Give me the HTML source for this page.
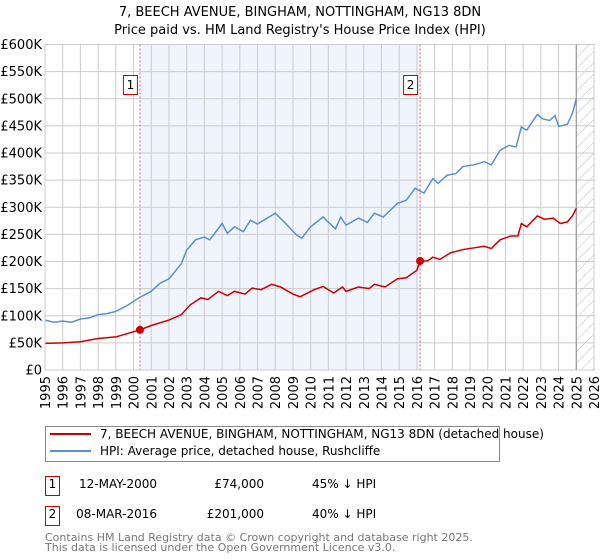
<!DOCTYPE html>
<html><head><meta charset="utf-8"><style>
body{margin:0;width:600px;height:560px;background:#fff;font-family:"DejaVu Sans","Liberation Sans",sans-serif;overflow:hidden}
svg{position:absolute;left:0;top:0}
</style></head><body>
<svg id="chart" width="600" height="560" font-family="DejaVu Sans, Liberation Sans, sans-serif">
<text x="300" y="16" text-anchor="middle" font-size="13">7, BEECH AVENUE, BINGHAM, NOTTINGHAM, NG13 8DN</text>
<text x="300" y="34" text-anchor="middle" font-size="13">Price paid vs. HM Land Registry's House Price Index (HPI)</text>
<defs><pattern id="hatch" width="8" height="8" patternUnits="userSpaceOnUse" patternTransform="rotate(45)"><line x1="0" y1="0" x2="0" y2="8" stroke="#bbb" stroke-width="1"/></pattern></defs>
<g id="plot"></g>
<g id="legend">
<rect x="45.5" y="426.5" width="454" height="35" fill="#fff" stroke="#888"/>
<line x1="50" y1="434" x2="91" y2="434" stroke="#cc0000" stroke-width="2"/>
<text x="100" y="438" font-size="12">7, BEECH AVENUE, BINGHAM, NOTTINGHAM, NG13 8DN (detached house)</text>
<line x1="50" y1="451" x2="91" y2="451" stroke="#5b8fd0" stroke-width="2"/>
<text x="100" y="455" font-size="12">HPI: Average price, detached house, Rushcliffe</text>
</g>
<g font-size="12">
<rect x="45.5" y="476.5" width="14" height="19" fill="#fff" stroke="#cc0000"/>
<text x="52.5" y="488" text-anchor="middle">1</text>
<text x="157" y="488" text-anchor="end">12-MAY-2000</text>
<text x="264" y="488" text-anchor="end">£74,000</text>
<text x="312" y="488">45% ↓ HPI</text>
<rect x="45.5" y="506.5" width="14" height="19" fill="#fff" stroke="#cc0000"/>
<text x="52.5" y="518" text-anchor="middle">2</text>
<text x="157" y="518" text-anchor="end">08-MAR-2016</text>
<text x="264" y="518" text-anchor="end">£201,000</text>
<text x="312" y="518">40% ↓ HPI</text>
</g>
<text x="45" y="541" font-size="11" fill="#777">Contains HM Land Registry data © Crown copyright and database right 2025.</text>
<text x="45" y="551" font-size="11" fill="#777">This data is licensed under the Open Government Licence v3.0.</text>
</svg>
<script>
const yTicks=[0,50,100,150,200,250,300,350,400,450,500,550,600];
const yTickLabels=["£0","£50K","£100K","£150K","£200K","£250K","£300K","£350K","£400K","£450K","£500K","£550K","£600K"];
const xYears=[1995,1996,1997,1998,1999,2000,2001,2002,2003,2004,2005,2006,2007,2008,2009,2010,2011,2012,2013,2014,2015,2016,2017,2018,2019,2020,2021,2022,2023,2024,2025,2026];
const hpiYears=[1995,1995.5,1996,1996.5,1997,1997.5,1998,1998.5,1999,1999.7,2000.3,2001,2001.5,2002,2002.7,2003,2003.5,2004,2004.3,2005,2005.3,2005.7,2006.2,2006.6,2007,2008,2008.5,2009.2,2009.5,2010,2010.7,2011.4,2011.7,2012,2012.7,2013.2,2013.6,2014.1,2014.9,2015.4,2015.9,2016.4,2016.9,2017.2,2017.7,2018.2,2018.6,2019.2,2019.8,2020.2,2020.7,2021.2,2021.6,2021.9,2022.2,2022.8,2023.1,2023.5,2023.8,2024,2024.5,2024.8,2025];
const hpiValues=[92,88,90,88,94,96,102,104,108,120,133,145,160,168,196,221,240,245,240,270,252,264,255,276,269,289,273,249,243,264,282,260,282,267,280,272,289,282,307,313,335,326,353,344,359,362,375,378,384,378,405,414,411,448,442,471,463,460,469,449,453,475,500];
const priceYears=[1995,1996,1997,1998,1999,2000.36,2001,2002,2002.7,2003.2,2003.8,2004.2,2004.8,2005.3,2005.7,2006.3,2006.7,2007.2,2007.8,2008.3,2009,2009.4,2010.2,2010.7,2011.3,2011.8,2012,2012.7,2013.3,2013.6,2014.2,2014.9,2015.4,2016,2016.18,2016.6,2016.9,2017.3,2017.9,2018.6,2019.2,2019.8,2020.2,2020.7,2021.3,2021.7,2021.9,2022.2,2022.8,2023.2,2023.7,2024.1,2024.5,2024.8,2025];
const priceValues=[49,50,52,58,61,74,82,92,102,120,133,130,145,137,145,140,151,148,158,153,140,135,148,154,142,153,145,153,150,158,153,168,170,184,201,201,208,204,216,222,225,228,224,240,247,247,270,264,284,278,280,270,273,285,298];
const saleYears=[2000.36,2016.18];
const saleValues=[74,201];
const saleLabels=["1","2"];
const hatchStart=2025;

const X0=45,X1=594,Y0=370,Y1=44.5;
const x=yr=>X0+(yr-1995)*(X1-X0)/31;
const y=v=>Y0-v*(Y0-Y1)/600;
const NS="http://www.w3.org/2000/svg";
const svg=document.getElementById('chart');
const g=document.getElementById('plot');
function mk(t,a,p){const e=document.createElementNS(NS,t);for(const k in a)e.setAttribute(k,a[k]);(p||g).appendChild(e);return e;}

const bg=mk('rect',{x:X0,y:Y1,width:X1-X0,height:Y0-Y1,fill:'#fff'});


const shade=mk('rect',{x:x(saleYears[0]),y:Y1,width:x(saleYears[1])-x(saleYears[0]),height:Y0-Y1,fill:'#f0f4fd'});


const hatch=mk('rect',{x:x(hatchStart),y:Y1,width:X1-x(hatchStart),height:Y0-Y1,fill:'url(#hatch)'});



yTicks.forEach((v,i)=>{
  const l=mk('line',{x1:X0,x2:X1,y1:y(v),y2:y(v),stroke:'#ccc','stroke-width':1});
  
  
  const t=mk('text',{x:X0-3,y:y(v)+4.5,'text-anchor':'end','font-size':13});
  
  
  t.textContent=yTickLabels[i];
});
xYears.forEach(yr=>{
  const l=mk('line',{x1:x(yr),x2:x(yr),y1:Y1,y2:Y0,stroke:'#ccc','stroke-width':1});
  
  
  const t=mk('text',{x:0,y:0,'text-anchor':'end','font-size':13,transform:`translate(${x(yr)+5},${Y0+6}) rotate(-90)`});
  
  
  t.textContent=yr;
});
const vline=mk('line',{x1:x(hatchStart),x2:x(hatchStart),y1:Y1,y2:Y0,stroke:'#999','stroke-width':1.2});



saleYears.forEach((yr,i)=>{
  const l=mk('line',{x1:x(yr),x2:x(yr),y1:Y1,y2:Y0,stroke:'#e06060','stroke-width':1,'stroke-dasharray':'2,2'});
  
  
});

const hp=mk('polyline',{points:hpiYears.map((yr,i)=>x(yr)+','+y(hpiValues[i])).join(' '),fill:'none',stroke:'#5b8fd0','stroke-width':1.5});


const pp=mk('polyline',{points:priceYears.map((yr,i)=>x(yr)+','+y(priceValues[i])).join(' '),fill:'none',stroke:'#cc0000','stroke-width':1.5});



saleYears.forEach((yr,i)=>{
  const c=mk('circle',{cx:x(yr),cy:y(saleValues[i]),r:4,fill:'#cc0000'});
  
  
  const bx=x(yr)-11;
  const r=mk('rect',{x:bx-5.5,y:75.5,width:14,height:19,fill:'#fff',stroke:'#cc0000'});
  
  
  const t=mk('text',{x:bx+1.5,y:89,'text-anchor':'middle','font-size':12});
  
  
  t.textContent=saleLabels[i];
});
const border=mk('rect',{x:X0,y:Y1,width:X1-X0,height:Y0-Y1,fill:'none',stroke:'#ccc'});


</script>
</body></html>
